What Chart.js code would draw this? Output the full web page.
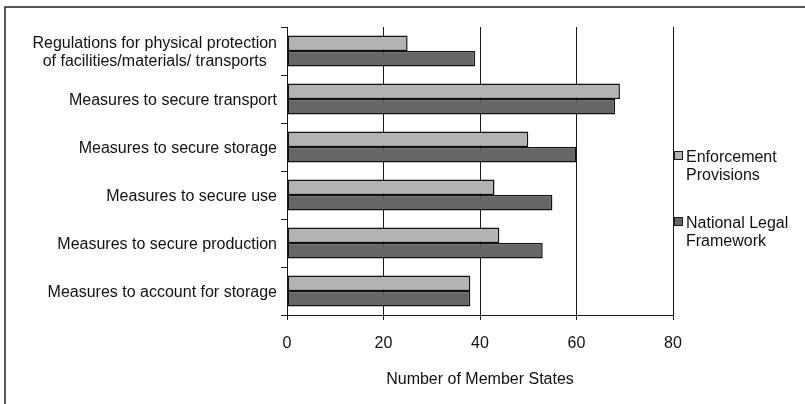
<!DOCTYPE html>
<html>
<head>
<meta charset="utf-8">
<script src="https://cdn.jsdelivr.net/npm/chart.js@4/dist/chart.umd.min.js"></script>
<style>
  html, body { margin: 0; padding: 0; background: #fff; }
  canvas { display: block; }
</style>
</head>
<body>
<canvas id="myChart" width="805" height="404"></canvas>
<script>
const categories = [
  ['Regulations for physical protection', 'of facilities/materials/ transports'],
  ['Measures to secure transport'],
  ['Measures to secure storage'],
  ['Measures to secure use'],
  ['Measures to secure production'],
  ['Measures to account for storage']
];
const enforcement = [25, 69, 50, 43, 44, 38];
const nationalLegal = [39, 68, 60, 55, 53, 38];
const seriesNames = [['Enforcement', 'Provisions'], ['National Legal', 'Framework']];
const xTicks = [0, 20, 40, 60, 80];

const FONT = '16px "Liberation Sans", Arial, sans-serif';
Chart.defaults.font.family = '"Liberation Sans", Arial, sans-serif';
Chart.defaults.font.size = 16;
Chart.defaults.color = '#111';

// y labels: block right-aligned, lines centered inside the block
const categoryLabels = {
  id: 'categoryLabels',
  afterDraw(chart) {
    const { ctx } = chart;
    const yScale = chart.scales.y;
    ctx.save();
    ctx.font = FONT;
    ctx.fillStyle = '#111';
    ctx.textBaseline = 'alphabetic';
    ctx.textAlign = 'center';
    const right = 277;
    for (let i = 0; i < categories.length; i++) {
      const lines = categories[i];
      const cy = yScale.getPixelForValue(i);
      let widest = 0;
      lines.forEach(l => { widest = Math.max(widest, ctx.measureText(l).width); });
      const cx = right - widest / 2;
      lines.forEach((l, j) => {
        const y = cy + 6 + (j - (lines.length - 1) / 2) * 18;
        ctx.fillText(l, cx, y);
      });
    }
    ctx.restore();
  }
};

// legend at the right and the cut frame (top + left edges)
const sideLegend = {
  id: 'sideLegend',
  afterDraw(chart) {
    const { ctx } = chart;
    ctx.save();
    ctx.font = FONT;
    ctx.textAlign = 'left';
    ctx.textBaseline = 'alphabetic';
    const tops = [162, 228];
    chart.data.datasets.forEach((ds, i) => {
      const base = tops[i];
      ctx.fillStyle = ds.backgroundColor;
      ctx.fillRect(674.5, base - 10.5, 8, 8);
      ctx.strokeStyle = '#1a1a1a';
      ctx.lineWidth = 1;
      ctx.strokeRect(674.5, base - 10.5, 8, 8);
      ctx.fillStyle = '#111';
      seriesNames[i].forEach((t, j) => ctx.fillText(t, 686, base + j * 18));
    });
    ctx.strokeStyle = '#222';
    ctx.lineWidth = 1.5;
    ctx.beginPath();
    ctx.moveTo(805, 7);
    ctx.lineTo(5, 7);
    ctx.lineTo(5, 404);
    ctx.stroke();
    ctx.restore();
  }
};

const config = {
  type: 'bar',
  data: {
    labels: categories.map(c => c.join(' ')),
    datasets: [
      {
        label: seriesNames[0].join(' '),
        data: enforcement,
        backgroundColor: '#b3b3b3',
        borderColor: '#111',
        borderWidth: 1.5,
        borderSkipped: false
      },
      {
        label: seriesNames[1].join(' '),
        data: nationalLegal,
        backgroundColor: '#666666',
        borderColor: '#111',
        borderWidth: 1.5,
        borderSkipped: false
      }
    ]
  },
  options: {
    indexAxis: 'y',
    responsive: false,
    animation: false,
    categoryPercentage: 0.65,
    barPercentage: 1.0,
    layout: { padding: { top: 27, right: 132, left: 0, bottom: 0 } },
    plugins: {
      legend: { display: false },
      tooltip: { enabled: false }
    },
    scales: {
      x: {
        min: xTicks[0],
        max: xTicks[xTicks.length - 1],
        afterBuildTicks(scale) {
          scale.ticks = xTicks.map(v => ({ value: v }));
        },
        afterFit(scale) { scale.height = 89; },
        grid: { color: '#1a1a1a', lineWidth: 1, tickLength: 5, drawTicks: true },
        border: { display: true, color: '#1a1a1a', width: 1 },
        ticks: { padding: 14, color: '#111', font: { size: 16 } },
        title: {
          display: true,
          text: 'Number of Member States',
          color: '#111',
          font: { size: 16 },
          padding: { top: 0, bottom: 15 }
        }
      },
      y: {
        afterFit(scale) { scale.width = 287; },
        grid: { drawOnChartArea: false, drawTicks: true, tickLength: 6, color: '#1a1a1a', offset: true },
        border: { display: true, color: '#1a1a1a', width: 1 },
        ticks: { display: false }
      }
    }
  },
  plugins: [categoryLabels, sideLegend]
};

const myChart = new Chart(document.getElementById('myChart'), config);
</script>
</body>
</html>
